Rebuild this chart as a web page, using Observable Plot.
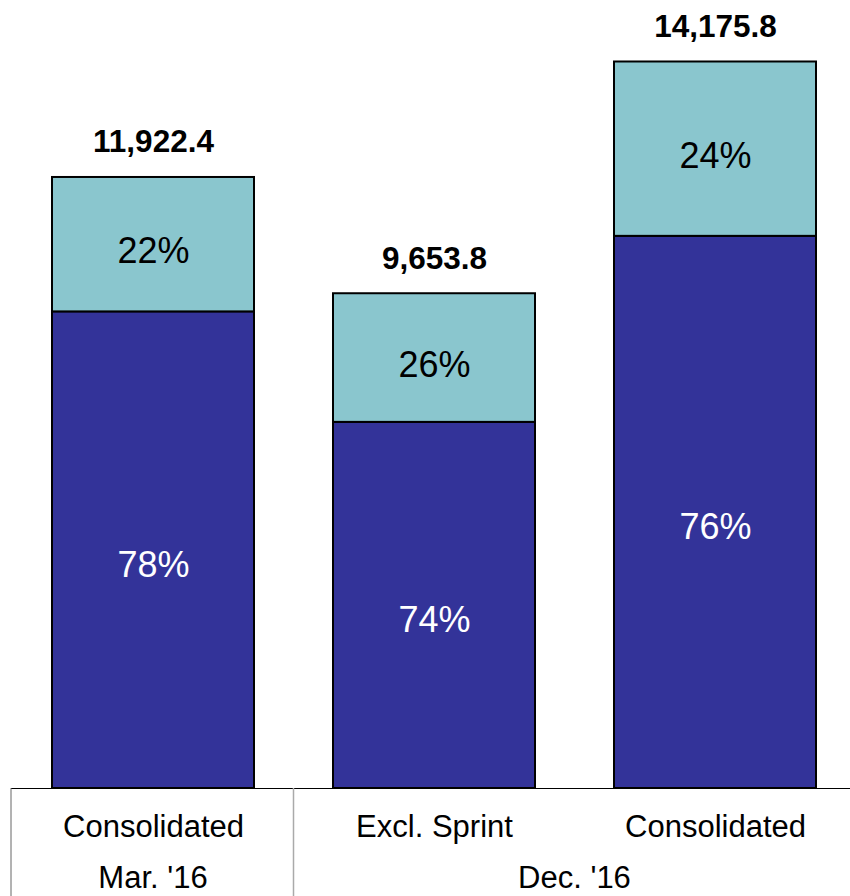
<!DOCTYPE html>
<html>
<head>
<meta charset="utf-8">
<script src="https://cdn.jsdelivr.net/npm/d3@7"></script>
<script src="https://cdn.jsdelivr.net/npm/@observablehq/plot@0.6"></script>
<style>
  html, body { margin: 0; padding: 0; background: #fff; }
  #chart svg { display: block; overflow: visible; }
</style>
</head>
<body>
<div id="chart"></div>
<script>
const barLabels = ["Consolidated", "Excl. Sprint", "Consolidated"];
const periods = ["Mar. '16", "Dec. '16", "Dec. '16"];
const totals = [11922.4, 9653.8, 14175.8];
const shareDark = [78, 74, 76];
const shareLight = [22, 26, 24];

const keys = barLabels.map((b, i) => `${periods[i]}|${b}`);
const DARK = "#333399", LIGHT = "#8AC6CE";
const FONT = "'Liberation Sans', Arial, Helvetica, sans-serif";

const segs = [];
keys.forEach((k, i) => {
  const d = totals[i] * shareDark[i] / 100;
  segs.push({key: k, y1: 0, y2: d, mid: d / 2, share: shareDark[i], kind: "dark"});
  segs.push({key: k, y1: d, y2: totals[i], mid: (d + totals[i]) / 2, share: shareLight[i], kind: "light"});
});
const tots = keys.map((k, i) => ({key: k, total: totals[i], label: d3.format(",.1f")(totals[i])}));
const cats = keys.map((k, i) => ({key: k, label: barLabels[i]}));

const plot = Plot.plot({
  width: 850,
  height: 896,
  marginLeft: 11,
  marginRight: 0,
  marginTop: 0,
  marginBottom: 0,
  style: {fontFamily: FONT, background: "#fff"},
  x: {type: "band", domain: keys, range: [52, 816], paddingInner: 0.282, paddingOuter: 0, axis: null},
  y: {domain: [0, 15000], range: [788, 19.25], axis: null},
  marks: [
    Plot.ruleY([0], {stroke: "#000", strokeWidth: 1.2}),
    Plot.barY(segs, {x: "key", y1: "y1", y2: "y2", fill: d => d.kind === "dark" ? DARK : LIGHT, stroke: "#000", strokeWidth: 2}),
    Plot.text(segs.filter(d => d.kind === "dark"), {x: "key", y: "mid", text: d => d.share + "%", fill: "#fff", fontSize: 36, lineAnchor: "middle", dy: 15}),
    Plot.text(segs.filter(d => d.kind === "light"), {x: "key", y: "mid", text: d => d.share + "%", fill: "#000", fontSize: 36, lineAnchor: "middle", dy: 7}),
    Plot.text(tots, {x: "key", y: "total", text: "label", fill: "#000", fontSize: 31.5, fontWeight: "bold", lineAnchor: "bottom", dy: -25}),
    Plot.text(cats, {x: "key", y: () => 0, text: "label", fill: "#000", fontSize: 31, lineAnchor: "bottom", dy: 48})
  ]
});

// table-like period row below the axis
const svg = d3.select(plot);
const xs = plot.scale("x");
const bw = xs.bandwidth;
const step = xs.step;
const y0 = plot.scale("y").apply(0);
const H = 896;
const xLeft = 11;
const divider = xs.apply(keys[0]) + bw + (step - bw) / 2;
svg.append("line").attr("x1", xLeft).attr("x2", xLeft).attr("y1", y0).attr("y2", H).attr("stroke", "#666").attr("stroke-width", 1);
svg.append("line").attr("x1", divider).attr("x2", divider).attr("y1", y0).attr("y2", H).attr("stroke", "#aaa").attr("stroke-width", 1.5);

const groups = d3.groups(keys.map((k, i) => ({k, p: periods[i]})), d => d.p);
groups.forEach(([p, arr]) => {
  const cx = d3.mean(arr, d => xs.apply(d.k) + bw / 2);
  svg.append("text").attr("x", cx).attr("y", y0 + 100).attr("text-anchor", "middle")
    .attr("font-family", FONT).attr("font-size", 31).attr("fill", "#000").text(p);
});

document.getElementById("chart").appendChild(plot);
</script>
</body>
</html>
